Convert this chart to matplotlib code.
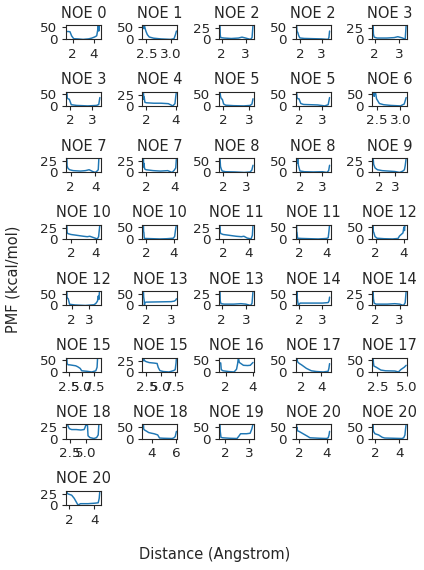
import matplotlib
matplotlib.use("Agg")
import matplotlib.pyplot as plt
import seaborn as sns

# panel titles, in grid order
titles = ["NOE 0", "NOE 1", "NOE 2", "NOE 2", "NOE 3",
          "NOE 3", "NOE 4", "NOE 5", "NOE 5", "NOE 6",
          "NOE 7", "NOE 7", "NOE 8", "NOE 8", "NOE 9",
          "NOE 10", "NOE 10", "NOE 11", "NOE 11", "NOE 12",
          "NOE 12", "NOE 13", "NOE 13", "NOE 14", "NOE 14",
          "NOE 15", "NOE 15", "NOE 16", "NOE 17", "NOE 17",
          "NOE 18", "NOE 18", "NOE 19", "NOE 20", "NOE 20",
          "NOE 20"]

# distance samples (Angstrom), one list per panel
dist = [
    [1.45, 1.6, 1.75, 1.9, 2.1, 2.5, 3.0, 3.5, 3.8, 4.1, 4.3, 4.4, 4.45, 4.5, 4.55, 4.6],
    [2.44, 2.45, 2.46, 2.47, 2.49, 2.52, 2.56, 2.65, 2.8, 3.0, 3.07, 3.1, 3.12],
    [1.93, 1.94, 1.96, 2.1, 2.4, 2.7, 2.85, 3.0, 3.2, 3.27, 3.31],
    [1.85, 1.87, 1.9, 1.95, 2.0, 2.2, 2.6, 3.0, 3.3, 3.34, 3.37],
    [1.94, 1.95, 1.98, 2.1, 2.5, 2.8, 2.95, 3.15, 3.25, 3.29],
    [1.85, 1.87, 1.9, 1.96, 2.05, 2.3, 2.8, 3.2, 3.3, 3.35],
    [1.8, 1.82, 1.85, 1.9, 2.0, 2.5, 3.0, 3.5, 3.8, 3.95, 4.0, 4.05],
    [1.88, 1.9, 1.93, 1.97, 2.02, 2.1, 2.4, 2.8, 3.05, 3.12, 3.16],
    [1.9, 1.92, 1.95, 2.0, 2.08, 2.2, 2.5, 2.8, 3.1, 3.25, 3.31],
    [2.43, 2.44, 2.45, 2.46, 2.48, 2.5, 2.56, 2.65, 2.8, 3.0, 3.08, 3.12],
    [1.68, 1.7, 1.75, 1.9, 2.2, 2.8, 3.2, 3.5, 3.8, 4.0, 4.15, 4.25, 4.3, 4.38],
    [1.82, 1.84, 1.86, 1.9, 2.0, 2.5, 3.0, 3.5, 3.8, 3.95, 4.05, 4.1],
    [1.87, 1.89, 1.92, 1.96, 2.1, 2.5, 2.9, 3.15, 3.22, 3.27],
    [1.85, 1.86, 1.87, 1.88, 1.9, 1.93, 2.0, 2.2, 2.6, 3.0, 3.2, 3.28, 3.32],
    [1.63, 1.66, 1.75, 1.9, 2.2, 2.6, 3.0, 3.3, 3.5, 3.6, 3.65, 3.71],
    [1.68, 1.7, 1.75, 2.0, 2.5, 3.0, 3.3, 3.5, 3.8, 4.0, 4.1, 4.2, 4.3],
    [1.82, 1.83, 1.85, 1.88, 1.95, 2.5, 3.0, 3.5, 3.95, 4.05, 4.12, 4.18],
    [1.76, 1.78, 1.82, 2.0, 2.5, 3.0, 3.4, 3.6, 3.85, 4.0, 4.15, 4.25, 4.3],
    [1.83, 1.84, 1.86, 1.9, 2.2, 2.8, 3.4, 4.0, 4.12, 4.17, 4.22],
    [1.82, 1.83, 1.86, 1.95, 2.1, 2.6, 3.2, 3.6, 3.7, 3.85, 3.95, 4.02, 4.06, 4.1, 4.18],
    [1.72, 1.73, 1.76, 1.8, 1.88, 2.2, 2.8, 3.3, 3.4, 3.5, 3.55, 3.58, 3.62, 3.64],
    [1.9, 1.91, 1.93, 1.94, 1.96, 2.0, 2.5, 3.0, 3.12, 3.18, 3.21],
    [1.93, 1.94, 1.97, 2.1, 2.5, 2.8, 3.0, 3.2, 3.26, 3.3],
    [1.9, 1.91, 1.92, 1.93, 1.95, 1.98, 2.05, 2.5, 3.0, 3.25, 3.29, 3.31],
    [1.93, 1.94, 1.97, 2.05, 2.5, 2.8, 3.0, 3.15, 3.22, 3.26],
    [2.05, 2.1, 2.3, 2.6, 3.2, 3.8, 4.2, 4.7, 5.0, 6.0, 7.0, 7.8, 8.05, 8.15, 8.6],
    [1.98, 2.0, 2.1, 2.3, 2.5, 3.0, 3.8, 4.4, 4.6, 4.9, 5.5, 6.5, 7.3, 7.6, 7.75, 7.82],
    [1.59, 1.64, 1.68, 1.8, 2.2, 2.6, 2.7, 2.8, 2.88, 2.93, 3.0, 3.1, 3.3, 3.6, 3.8, 4.0],
    [1.5, 1.52, 1.55, 1.58, 1.65, 1.8, 2.0, 2.5, 3.0, 3.5, 4.2, 4.7, 4.78, 4.85],
    [2.14, 2.16, 2.2, 2.4, 2.8, 3.2, 4.0, 4.3, 4.5, 4.8, 4.96],
    [2.07, 2.2, 2.3, 2.45, 2.8, 3.5, 4.2, 4.7, 4.85, 5.0, 5.1, 5.2, 5.3, 5.6, 6.2, 6.6, 6.85, 6.95, 7.1],
    [3.32, 3.34, 3.4, 3.6, 3.75, 4.0, 4.2, 4.5, 4.65, 5.0, 5.7, 5.85, 5.95, 6.05],
    [1.79, 1.8, 1.83, 1.9, 2.2, 2.5, 2.58, 2.65, 2.9, 3.05, 3.12, 3.17],
    [1.83, 1.84, 1.86, 1.9, 2.0, 2.3, 2.6, 2.8, 3.5, 4.0, 4.12, 4.18, 4.22],
    [1.86, 1.87, 1.9, 1.95, 2.0, 2.3, 2.6, 2.8, 3.5, 4.2, 4.35, 4.45, 4.5, 4.55],
    [1.82, 1.85, 1.9, 2.2, 2.4, 2.6, 2.7, 2.9, 3.5, 4.0, 4.3, 4.38, 4.43],
]

# PMF values (kcal/mol), matching dist
pmf = [
    [33, 33, 32, 15, 3, 2, 0, 2, 5, 10, 15, 40, 60, 35, 60, 60],
    [60, 45, 60, 50, 35, 20, 10, 5, 2, 0, 3, 20, 35],
    [32, 10, 4, 3, 2, 3, 5, 3, 0, 4, 32],
    [60, 32, 30, 15, 6, 4, 3, 2, 0, 8, 35],
    [32, 12, 5, 3, 3, 4, 6, 3, 0, 32],
    [60, 32, 30, 28, 5, 2, 0, 2, 6, 35],
    [32, 15, 20, 8, 7, 6, 6, 5, 0, 5, 20, 32],
    [60, 40, 30, 28, 8, 3, 1, 0, 2, 8, 30],
    [60, 35, 30, 30, 10, 6, 5, 4, 0, 5, 35],
    [60, 60, 40, 60, 55, 30, 10, 5, 2, 0, 8, 35],
    [32, 15, 10, 6, 4, 3, 4, 6, 2, 0, 3, 6, 32, 32],
    [32, 12, 20, 8, 6, 4, 3, 4, 0, 5, 10, 32],
    [60, 25, 15, 6, 3, 2, 0, 2, 10, 30],
    [60, 40, 60, 40, 60, 30, 6, 3, 2, 3, 0, 8, 30],
    [32, 18, 10, 6, 4, 3, 2, 0, 3, 6, 15, 32],
    [32, 15, 12, 10, 8, 6, 5, 6, 3, 1, 0, 5, 32],
    [60, 30, 28, 3, 2, 1, 0, 1, 3, 10, 40, 60],
    [32, 15, 12, 10, 8, 6, 5, 6, 2, 1, 0, 8, 32],
    [60, 30, 28, 3, 2, 1, 0, 2, 5, 30, 60],
    [60, 30, 28, 10, 3, 1, 0, 2, 12, 20, 25, 50, 35, 60, 60],
    [60, 30, 30, 28, 5, 2, 0, 3, 8, 18, 40, 25, 60, 60],
    [60, 35, 20, 0, 12, 14, 15, 16, 18, 22, 28],
    [32, 10, 4, 3, 3, 4, 3, 0, 5, 32],
    [60, 40, 60, 30, 15, 0, 10, 10, 10, 12, 20, 35],
    [32, 15, 5, 3, 3, 4, 3, 0, 6, 32],
    [60, 35, 30, 30, 28, 26, 22, 15, 5, 3, 0, 5, 20, 60, 60],
    [32, 25, 27, 24, 23, 21, 20, 19, 10, 3, 1, 0, 3, 5, 20, 32],
    [38, 38, 10, 5, 2, 0, 5, 12, 36, 60, 40, 36, 28, 27, 28, 40],
    [60, 45, 60, 45, 40, 35, 30, 15, 5, 2, 0, 3, 15, 35],
    [60, 40, 25, 20, 8, 5, 4, 0, 10, 20, 28],
    [32, 30, 26, 22, 20, 20, 19, 20, 25, 32, 30, 32, 6, 2, 0, 2, 8, 32, 32],
    [60, 40, 36, 30, 25, 22, 20, 15, 2, 1, 0, 3, 8, 30],
    [60, 30, 5, 3, 1, 0, 10, 20, 20, 22, 40, 60],
    [60, 40, 45, 32, 30, 20, 10, 3, 1, 0, 3, 15, 30],
    [60, 35, 28, 25, 20, 15, 5, 2, 1, 0, 3, 15, 40, 60],
    [32, 26, 25, 22, 15, 5, 0, 3, 3, 4, 5, 15, 32],
]


def main():
    sns.set_theme(style="ticks")
    plt.rcParams["font.family"] = ["DejaVu Sans"]
    plt.rcParams.update({
        "axes.linewidth": 0.9,
        "xtick.major.size": 3.5,
        "ytick.major.size": 3.5,
        "xtick.major.width": 0.9,
        "ytick.major.width": 0.9,
    })

    dpi = 88
    fig, axes = plt.subplots(8, 5, figsize=(425 / dpi, 570 / dpi), dpi=dpi)
    fig.subplots_adjust(left=0.155, right=0.958, top=0.956, bottom=0.114,
                        wspace=1.19, hspace=3.65)

    flat = axes.ravel()
    for i, ax in enumerate(flat):
        if i >= len(titles):
            ax.axis("off")
            continue
        ax.plot(dist[i], pmf[i], color="#1f77b4", linewidth=1.2)
        ax.set_title(titles[i])
        ax.margins(x=0.03, y=0)

    fig.text(0.504, 0.028, "Distance (Angstrom)", ha="center", va="center",
             fontsize=12)
    fig.text(0.031, 0.51, "PMF (kcal/mol)", ha="center", va="center",
             rotation=90, fontsize=12)

    fig.savefig("out.png", dpi=dpi)
    plt.close(fig)


if __name__ == "__main__":
    main()
